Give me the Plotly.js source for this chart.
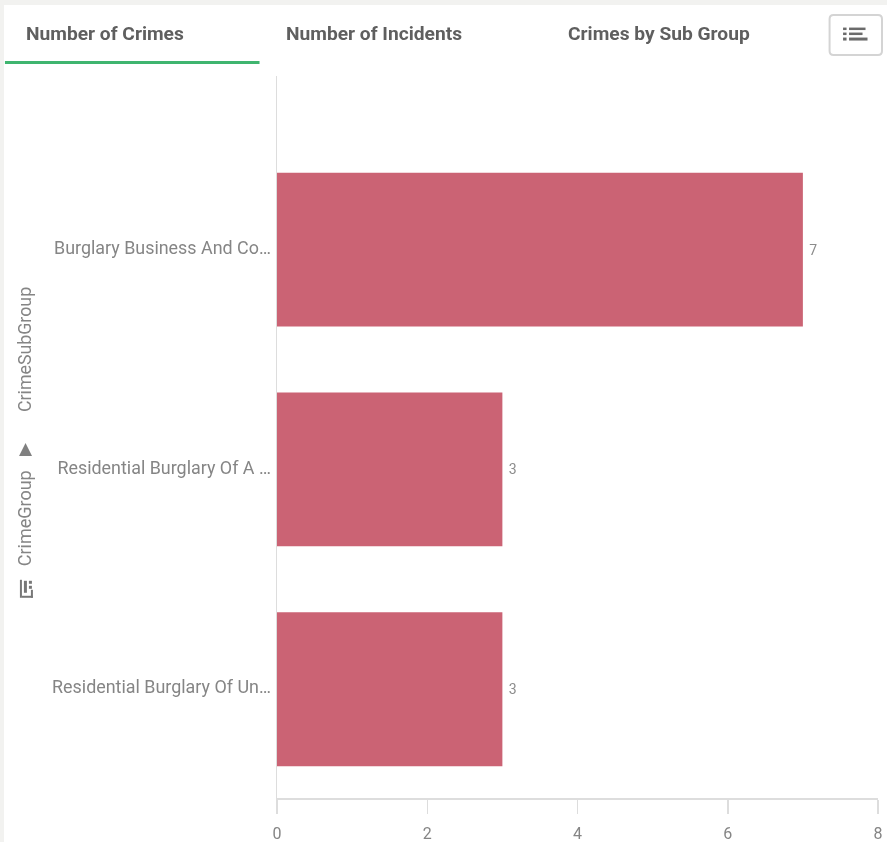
<!DOCTYPE html>
<html><head><meta charset="utf-8">
<script src="https://cdn.plot.ly/plotly-3.0.1.min.js"></script>
<style>html,body{margin:0;padding:0;background:#f2f2f0;overflow:hidden}
#c{position:absolute;left:4px;top:5px;width:883px;height:837px;background:#fff;filter:blur(0.7px)}</style>
</head><body><div id="c"></div>
<script>
const categories = ["Burglary Business And Co…","Residential Burglary Of A …","Residential Burglary Of Un…"];
const values = [7,3,3];
const tickValues = [0,2,4,6,8];
const tabs = ["Number of Crimes","Number of Incidents","Crimes by Sub Group"];
const dimensionTitle = "CrimeGroup";
const subDimensionTitle = "CrimeSubGroup";

const W=883,H=837,OX=4,OY=5,L=272.5,T=70.5,R=8.5,B=43.5;
const pw=W-L-R, ph=H-T-B;
const px=x=>(x-OX-L)/pw, py=y=>1-(y-OY-T)/ph;
const grey="#858585", font="Roboto, sans-serif";

const ann=(text,x,y,size,opts)=>Object.assign({text,xref:'paper',yref:'paper',x:px(x),y:py(y),showarrow:false,
  font:{family:font,size,color:grey},xanchor:'left',yanchor:'middle'},opts||{});
const tabFont={family:font,size:19.2,color:'#5f5f5f',weight:700};

const annotations=[
  ann(tabs[0],23,33,19.2,{font:tabFont}),
  ann(tabs[1],284,33,19.2,{font:tabFont}),
  ann(tabs[2],566,33,19.2,{font:tabFont}),
  ann(subDimensionTitle,23.5,349.5,17.8,{textangle:-90,xanchor:'center'}),
  ann("▲",25,448,17,{xanchor:'center',font:{family:"DejaVu Sans",size:17,color:'#808080'}}),
  ann(dimensionTitle,23.5,518,18,{textangle:-90,xanchor:'center'}),
];

const rect=(x0,y0,x1,y1,color)=>({type:'rect',xref:'paper',yref:'paper',x0:px(x0),x1:px(x1),y0:py(y0),y1:py(y1),
  fillcolor:color,line:{width:0},layer:'above'});
const rounded=(x0,y0,x1,y1,r)=>{
  const X=x=>px(x),Y=y=>py(y);
  return `M${X(x0+r)},${Y(y0)} L${X(x1-r)},${Y(y0)} Q${X(x1)},${Y(y0)} ${X(x1)},${Y(y0+r)} L${X(x1)},${Y(y1-r)} Q${X(x1)},${Y(y1)} ${X(x1-r)},${Y(y1)} L${X(x0+r)},${Y(y1)} Q${X(x0)},${Y(y1)} ${X(x0)},${Y(y1-r)} L${X(x0)},${Y(y0+r)} Q${X(x0)},${Y(y0)} ${X(x0+r)},${Y(y0)} Z`;
};
const shapes=[
  rect(4,60.5,259,63.5,'#3fb56f'),
  {type:'path',xref:'paper',yref:'paper',path:rounded(830,14.5,882.5,54.5,4),fillcolor:'#fff',line:{color:'#d4d4d4',width:2}},
  rect(843.5,27,847,29.5,'#6b6b6b'),rect(849.5,27,866,29.5,'#6b6b6b'),
  rect(843.5,32,847,34.5,'#6b6b6b'),rect(849.5,32,863,34.5,'#6b6b6b'),
  rect(843.5,37,847,40,'#6b6b6b'),rect(849.5,37,868,40,'#6b6b6b'),
  rect(19,580,21,598,'#777'),rect(21,596,32,598,'#777'),
  rect(23,581,26,593,'#777'),
  rect(28,581,31,584,'#777'),rect(28,586,31,589,'#777'),
  rect(30,590,32,598,'#777'),
];

Plotly.newPlot('c',[{
  type:'bar',orientation:'h',y:categories,x:values,width:0.7,
  marker:{color:'#cb6374',line:{width:0}},
  text:values.map(v=>'\u00a0'+v),textposition:'outside',cliponaxis:false,
  textfont:{family:font,size:14,color:'#8c8c8c'},hoverinfo:'skip'
}],{
  width:W,height:H,margin:{l:L,r:R,t:T,b:B,pad:0},
  paper_bgcolor:'#fff',plot_bgcolor:'#fff',showlegend:false,
  xaxis:{range:[0,8],tickvals:tickValues,ticks:'outside',ticklen:14,tickwidth:1.5,tickcolor:'#ddd',
    showgrid:false,zeroline:false,showline:true,linecolor:'#ddd',linewidth:1.5,
    ticklabelstandoff:6,tickfont:{family:font,size:16,color:'#858585'}},
  yaxis:{type:'category',categoryorder:'array',categoryarray:categories,range:[2.495,-0.79],
    ticks:'',showgrid:false,zeroline:false,showline:true,linecolor:'#ddd',linewidth:1.5,
    ticklabelstandoff:1,ticklabelshift:2,tickfont:{family:font,size:17.9,color:'#858585'}},
  annotations,shapes
},{displayModeBar:false,staticPlot:true});
</script></body></html>
